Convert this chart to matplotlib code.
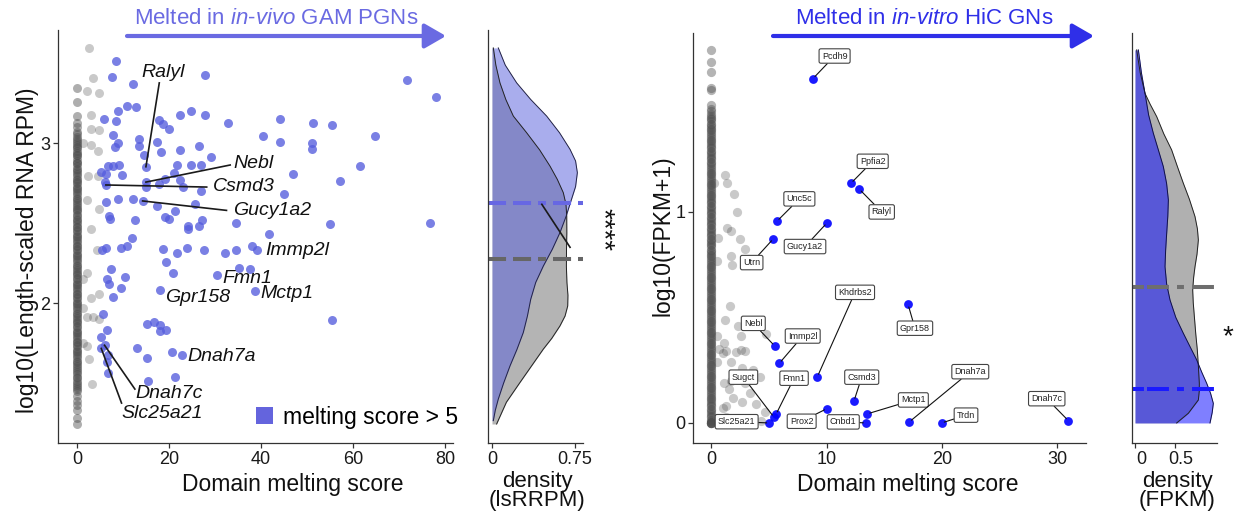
import matplotlib
matplotlib.use("Agg")
import matplotlib.pyplot as plt
from matplotlib.patches import Patch, FancyArrowPatch
from matplotlib.transforms import ScaledTranslation

plt.rcParams['font.family'] = ['Liberation Sans', 'DejaVu Sans']
plt.rcParams['mathtext.fontset'] = 'custom'
plt.rcParams['mathtext.rm'] = 'Liberation Sans'
plt.rcParams['mathtext.it'] = 'Liberation Sans:italic'
plt.rcParams['lines.scale_dashes'] = False

# ---------------- in-vivo GAM panel data ----------------
# genes melted (score > 5)
gam_melt_x = [8.41, 7.54, 12.10, 27.75, 71.67, 77.90, 10.80, 12.90, 8.99, 5.87, 8.48, 22.46, 24.86, 27.75,
              17.90, 18.70, 20.07, 32.75, 44.13, 51.23, 55.36, 64.86, 40.36, 44.13, 51.01, 51.16, 7.90, 8.91,
              8.26, 13.55, 13.41, 17.32, 18.26, 22.32, 26.45, 29.13, 14.57, 6.67, 7.90, 9.20, 5.3, 6.30,
              9.71, 21.67, 24.71, 26.88, 21.16, 19.06, 17.83, 22.39, 23.12, 15.0, 26.96, 45.0, 47.03, 61.45,
              57.17, 6.16, 6.23, 8.84, 12.25, 17.32, 25.58, 21.38, 19.13, 20.07, 27.17, 24.06, 24.13, 26.45,
              34.49, 54.93, 76.81, 41.67, 7.03, 7.17, 12.54, 12.03, 10.80, 9.57, 6.23, 5.51, 18.62, 21.67,
              23.84, 27.68, 32.25, 34.64, 37.97, 7.39, 6.45, 6.88, 10.51, 9.49, 7.75, 19.28, 20.94, 35.22,
              37.61, 55.43, 5.72, 6.45, 5.2, 6.81, 6.45, 6.67, 12.97, 15.14, 16.74, 18.04, 18.12, 19.28,
              15.22, 20.72, 15.51, 21.23]
gam_melt_y = [3.519, 3.415, 3.373, 3.431, 3.400, 3.288, 3.233, 3.229, 3.202, 3.150, 3.138, 3.175, 3.204, 3.181,
              3.146, 3.119, 3.088, 3.129, 3.154, 3.127, 3.115, 3.046, 3.046, 3.010, 3.004, 2.963, 3.050, 3.004,
              2.979, 3.025, 2.983, 3.008, 2.944, 2.958, 2.983, 2.913, 2.925, 2.858, 2.858, 2.865, 2.821, 2.808,
              2.802, 2.867, 2.863, 2.865, 2.813, 2.775, 2.748, 2.771, 2.729, 2.729, 2.702, 2.685, 2.810, 2.858,
              2.765, 2.760, 2.635, 2.650, 2.650, 2.610, 2.619, 2.575, 2.542, 2.525, 2.523, 2.481, 2.463, 2.485,
              2.502, 2.494, 2.504, 2.435, 2.546, 2.525, 2.519, 2.406, 2.358, 2.346, 2.348, 2.333, 2.338, 2.317,
              2.348, 2.333, 2.317, 2.333, 2.358, 2.217, 2.154, 2.123, 2.165, 2.098, 2.040, 2.258, 2.192, 2.223,
              2.213, 1.894, 1.935, 1.835, 1.790, 1.675, 1.633, 1.563, 1.721, 1.869, 1.883, 1.863, 1.827, 1.835,
              1.654, 1.696, 1.515, 1.540]

# named melted genes
gam_genes = ['Ralyl', 'Nebl', 'Csmd3', 'Gucy1a2', 'Immp2l', 'Fmn1', 'Gpr158', 'Mctp1', 'Dnah7a',
             'Dnah7c', 'Slc25a21']
gam_genes_x = [15.0, 15.0, 6.30, 14.28, 39.13, 30.43, 18.04, 38.77, 22.83, 6.01, 5.3]
gam_genes_y = [2.854, 2.758, 2.740, 2.640, 2.333, 2.179, 2.085, 2.075, 1.675, 1.737, 1.717]

# genes not melted (score <= 5)
gam_rest_x = [2.6, 3.4, 2.1, 4.7, 3.0, 3.1, 4.8, 1.3, 3.0, 4.5, 2.5, 4.6, 2.2, 4.7, 3.0, 4.4, 2.25, 1.4,
              4.7, 3.0, 1.4, 2.25, 3.4, 4.7, 1.4, 2.1, 2.7, 3.2]
gam_rest_y = [3.598, 3.408, 3.327, 3.313, 3.181, 3.088, 3.081, 3.004, 2.990, 2.952, 2.796, 2.796, 2.644,
              2.588, 2.467, 2.330, 2.192, 2.154, 2.056, 2.035, 1.973, 1.915, 1.915, 1.904, 1.748, 1.733,
              1.650, 1.494]
gam_zero_y = [3.35, 3.26, 3.17, 3.13, 3.10, 3.07, 3.06, 3.04, 3.03, 3.015, 3.00, 2.99, 2.975, 2.97, 2.955,
              2.94, 2.93, 2.925, 2.91, 2.89, 2.88, 2.875, 2.86, 2.84, 2.835, 2.82, 2.81, 2.795, 2.78, 2.77,
              2.76, 2.75, 2.735, 2.72, 2.715, 2.70, 2.69, 2.675, 2.66, 2.655, 2.64, 2.63, 2.615, 2.60, 2.59,
              2.585, 2.57, 2.555, 2.545, 2.53, 2.52, 2.51, 2.495, 2.48, 2.475, 2.46, 2.45, 2.435, 2.42, 2.415,
              2.40, 2.39, 2.375, 2.36, 2.355, 2.34, 2.33, 2.315, 2.30, 2.295, 2.28, 2.27, 2.255, 2.24, 2.235,
              2.22, 2.21, 2.195, 2.18, 2.175, 2.16, 2.15, 2.135, 2.12, 2.115, 2.10, 2.09, 2.075, 2.06, 2.055,
              2.04, 2.03, 2.015, 2.00, 1.995, 1.98, 1.97, 1.955, 1.94, 1.935, 1.92, 1.91, 1.895, 1.88, 1.875,
              1.86, 1.85, 1.835, 1.82, 1.815, 1.80, 1.79, 1.775, 1.76, 1.755, 1.74, 1.73, 1.715, 1.70, 1.695,
              1.68, 1.67, 1.655, 1.64, 1.635, 1.62, 1.61, 1.595, 1.58, 1.57, 1.555, 1.54, 1.53, 1.515, 1.50,
              1.49, 1.475, 1.46, 1.45, 1.42, 1.39, 1.36, 1.33, 1.28, 1.245]

# density of lsRRPM per group
gam_dens_melt_y = [3.598, 3.49, 3.379, 3.275, 3.171, 3.067, 2.963, 2.89, 2.817, 2.73, 2.65, 2.545, 2.442,
                   2.338, 2.233, 2.13, 2.025, 1.92, 1.817, 1.71, 1.608, 1.50, 1.40, 1.33, 1.265]
gam_dens_melt = [0.057, 0.12, 0.223, 0.35, 0.494, 0.61, 0.705, 0.755, 0.771, 0.755, 0.718, 0.67, 0.614,
                 0.545, 0.464, 0.395, 0.35, 0.32, 0.283, 0.225, 0.163, 0.105, 0.057, 0.03, 0.012]
gam_dens_rest_y = [3.598, 3.49, 3.379, 3.275, 3.171, 3.067, 2.96, 2.858, 2.775, 2.692, 2.62, 2.546, 2.44,
                   2.338, 2.23, 2.129, 2.05, 1.983, 1.92, 1.858, 1.78, 1.713, 1.61, 1.504, 1.38, 1.244]
gam_dens_rest = [0.012, 0.035, 0.072, 0.125, 0.193, 0.313, 0.43, 0.524, 0.59, 0.644, 0.668, 0.675, 0.676,
                 0.673, 0.672, 0.677, 0.686, 0.684, 0.66, 0.614, 0.54, 0.464, 0.36, 0.253, 0.13, 0.042]
gam_median_melt = 2.63
gam_median_rest = 2.275

# ---------------- in-vitro HiC panel data ----------------
hic_genes = ['Pcdh9', 'Ppfia2', 'Ralyl', 'Unc5c', 'Gucy1a2', 'Utrn', 'Khdrbs2', 'Gpr158', 'Nebl', 'Immp2l',
             'Sugct', 'Fmn1', 'Slc25a21', 'Prox2', 'Csmd3', 'Cnbd1', 'Mctp1', 'Dnah7a', 'Trdn', 'Dnah7c']
hic_genes_x = [8.83, 12.12, 12.84, 5.71, 10.04, 5.40, 9.21, 17.06, 5.51, 5.92, 5.45, 5.63, 5.05, 10.04,
               12.38, 13.42, 13.53, 17.17, 19.97, 30.94]
hic_genes_y = [1.632, 1.136, 1.108, 0.956, 0.948, 0.873, 0.219, 0.562, 0.365, 0.283, 0.027, 0.041, 0.0,
               0.068, 0.104, 0.0, 0.043, 0.005, 0.0, 0.011]

hic_rest_x = [1.24, 1.41, 0.3, 2.02, 2.25, 1.39, 1.73, 0.61, 2.54, 2.94, 1.7, 0.49, 1.79, 1.64, 1.24, 2.36,
              2.6, 4.8, 3.6, 1.0, 2.2, 2.9, 0.56, 3.6, 4.2, 1.6, 3.4, 2.7, 1.3, 1.0, 3.9, 4.7, 4.3, 1.3,
              0.5, 1.1, 0.7, 1.7, 2.7, 1.1, 1.7, 2.9, 1.9, 2.6, 1.3]
hic_rest_y = [1.175, 1.136, 1.136, 1.084, 0.998, 0.926, 0.910, 0.878, 0.870, 0.825, 0.790, 0.768, 0.749,
              0.555, 0.490, 0.460, 0.410, 0.420, 0.470, 0.330, 0.335, 0.340, 0.290, 0.250, 0.220, 0.160,
              0.140, 0.100, 0.080, 0.070, 0.090, 0.050, 0.010, 0.030, 0.410, 0.380, 0.350, 0.290, 0.260,
              0.190, 0.200, 0.190, 0.120, 0.345, 0.340]
hic_zero_y = [1.768, 1.712, 1.665, 1.585, 1.578, 1.507, 1.49, 1.478, 1.466, 1.455, 1.446, 1.44, 1.43, 1.419,
              1.413, 1.404, 1.394, 1.387, 1.378, 1.368, 1.361, 1.352, 1.342, 1.336, 1.326, 1.316, 1.31, 1.301,
              1.29, 1.283, 1.275, 1.264, 1.257, 1.249, 1.238, 1.231, 1.222, 1.212, 1.205, 1.196, 1.186, 1.18,
              1.17, 1.16, 1.153, 1.144, 1.134, 1.128, 1.118, 1.108, 1.101, 1.092, 1.082, 1.075, 1.066, 1.056,
              1.049, 1.04, 1.03, 1.023, 1.014, 1.004, 0.997, 0.988, 0.978, 0.971, 0.962, 0.952, 0.945, 0.936,
              0.926, 0.919, 0.91, 0.9, 0.893, 0.884, 0.874, 0.867, 0.858, 0.848, 0.841, 0.832, 0.822, 0.815,
              0.806, 0.796, 0.789, 0.78, 0.77, 0.763, 0.754, 0.744, 0.737, 0.728, 0.718, 0.711, 0.702, 0.692,
              0.685, 0.676, 0.666, 0.659, 0.65, 0.64, 0.633, 0.624, 0.614, 0.607, 0.598, 0.588, 0.581, 0.572,
              0.562, 0.555, 0.546, 0.536, 0.529, 0.52, 0.51, 0.503, 0.494, 0.484, 0.477, 0.468, 0.458, 0.451,
              0.442, 0.432, 0.425, 0.416, 0.406, 0.399, 0.39, 0.38, 0.373, 0.364, 0.354, 0.347, 0.338, 0.328,
              0.321, 0.312, 0.302, 0.295, 0.286, 0.276, 0.269, 0.26, 0.25, 0.243, 0.234, 0.224, 0.217, 0.208,
              0.198, 0.191, 0.182, 0.172, 0.165, 0.156, 0.146, 0.139, 0.13, 0.12, 0.113, 0.104, 0.094, 0.087,
              0.078, 0.068, 0.061, 0.052, 0.042, 0.035, 0.026, 0.016, 0.009, 0.004, 0.0, 0.0, 0.0, 0.0, 0.0]

hic_dens_melt_y = [0.0, 0.05, 0.093, 0.14, 0.188, 0.24, 0.299, 0.36, 0.425, 0.50, 0.583, 0.66, 0.741, 0.82,
                   0.899, 0.98, 1.057, 1.135, 1.215, 1.29, 1.373, 1.46, 1.562, 1.66, 1.768]
hic_dens_melt = [0.9375, 0.965, 0.979, 0.945, 0.896, 0.835, 0.771, 0.69, 0.604, 0.51, 0.4375, 0.395, 0.375,
                 0.383, 0.396, 0.41, 0.417, 0.395, 0.354, 0.295, 0.229, 0.17, 0.125, 0.08, 0.042]
hic_dens_rest_y = [0.0, 0.046, 0.109, 0.15, 0.188, 0.27, 0.346, 0.42, 0.504, 0.57, 0.63, 0.69, 0.741, 0.80,
                   0.867, 0.92, 0.978, 1.06, 1.136, 1.215, 1.294, 1.37, 1.452, 1.51, 1.562, 1.66, 1.768]
hic_dens_rest = [0.521, 0.667, 0.792, 0.803, 0.804, 0.792, 0.779, 0.76, 0.742, 0.728, 0.721, 0.733, 0.75,
                 0.775, 0.792, 0.78, 0.75, 0.68, 0.604, 0.53, 0.458, 0.36, 0.271, 0.19, 0.125, 0.065, 0.021]
hic_median_rest = 0.645
hic_median_melt = 0.161

# ---------------- colours ----------------
GAM_BLUE = '#555ddd'
GAM_TITLE = '#6a6ae2'
HIC_BLUE = '#0101ff'
GREY_PT = '#4d4d4d'
GREY_FILL = '#6b6b6b'
HIC_GREY_FILL = '#636363'
AXC = '#333333'

W, H = 1239, 519
fig = plt.figure(figsize=(W / 100, H / 100), dpi=100)


def px_axes(x0, y0, x1, y1):
    return fig.add_axes([x0 / W, 1 - y1 / H, (x1 - x0) / W, (y1 - y0) / H])


def fpos(x, y):
    return x / W, 1 - y / H


def style(ax):
    for s in ('top', 'right'):
        ax.spines[s].set_visible(False)
    for s in ('left', 'bottom'):
        ax.spines[s].set_linewidth(0.9)
        ax.spines[s].set_color(AXC)
    ax.tick_params(length=3.5, width=0.9, color=AXC, labelsize=13, labelcolor='#1a1a1a', pad=2)
    ax.patch.set_alpha(0)


# ======== left scatter ========
ax1 = px_axes(58, 30, 453, 443)
style(ax1)
ax1.set_xlim(-4.1, 81.7)
ax1.set_ylim(1.125, 3.71)
ax1.set_xticks([0, 20, 40, 60, 80])
ax1.set_yticks([2, 3])
ax1.scatter([0] * len(gam_zero_y), gam_zero_y, s=42, c=GREY_PT, alpha=0.45, linewidths=0)
ax1.scatter(gam_rest_x, gam_rest_y, s=42, c=GREY_PT, alpha=0.3, linewidths=0)
ax1.scatter(gam_melt_x + gam_genes_x, gam_melt_y + gam_genes_y, s=42, c=GAM_BLUE, alpha=0.78,
            linewidths=0)

gam_label_pos = {
    'Ralyl': ((18.8, 3.442), (17.9, 3.379)),
    'Nebl': ((38.3, 2.875), (33.3, 2.865)),
    'Csmd3': ((36.2, 2.729), (28.2, 2.727)),
    'Gucy1a2': ((42.3, 2.583), (32.5, 2.581)),
    'Immp2l': ((47.9, 2.333), None),
    'Fmn1': ((37.0, 2.154), None),
    'Gpr158': ((26.3, 2.035), None),
    'Mctp1': ((45.7, 2.060), None),
    'Dnah7a': ((31.5, 1.667), None),
    'Dnah7c': ((20.1, 1.4375), (12.6, 1.4625)),
    'Slc25a21': ((18.6, 1.3125), (9.7, 1.375)),
}
for g, gx, gy in zip(gam_genes, gam_genes_x, gam_genes_y):
    (tx, ty), lend = gam_label_pos[g]
    if lend is not None:
        ax1.plot([gx, lend[0]], [gy, lend[1]], color='#1a1a1a', lw=1.2, zorder=3)
    ax1.text(tx, ty, g, fontsize=14, style='italic', ha='center', va='center', color='#111111')

ax1.legend(handles=[Patch(facecolor='#6464dd', edgecolor='none')], labels=['melting score > 5'],
           loc='lower left', bbox_to_anchor=(0.50, 0.035), frameon=False, fontsize=16.5,
           handlelength=0.77, handleheight=0.77, handletextpad=0.45, borderpad=0, borderaxespad=0)

# ======== left density ========
ax2 = px_axes(488, 30, 583, 443)
style(ax2)
ax2.set_xlim(-0.036, 0.822)
ax2.set_ylim(1.125, 3.71)
ax2.set_yticks([])
ax2.set_xticks([0, 0.75])
ax2.set_xticklabels(['0', '0.75'])
ax2.fill_betweenx(gam_dens_rest_y, 0, gam_dens_rest, color=GREY_FILL, alpha=0.5, lw=0)
ax2.fill_betweenx(gam_dens_melt_y, 0, gam_dens_melt, color=GAM_BLUE, alpha=0.5, lw=0)
ax2.plot(gam_dens_rest, gam_dens_rest_y, color='#222222', lw=0.7)
ax2.plot(gam_dens_melt, gam_dens_melt_y, color='#222244', lw=0.7)
ax2.axhline(gam_median_melt, color='#6767e3', lw=2.9, linestyle=(0, (13, 5, 13, 5, 5.8, 5)))
ax2.axhline(gam_median_rest, color='#666666', lw=2.9, linestyle=(0, (13, 5, 13, 5, 5.8, 5)))
ax2.plot([0.45, 0.705], [gam_median_melt - 0.011, gam_median_rest + 0.075], color='#1a1a1a', lw=1.2)
fig.text(*fpos(602, 230), '****', rotation=270, fontsize=20, ha='center', va='center', color='#111111')

# ======== right scatter ========
ax3 = px_axes(693, 33, 1086, 443)
style(ax3)
ax3.set_xlim(-1.56, 32.47)
ax3.set_ylim(-0.095, 1.848)
ax3.set_xticks([0, 10, 20, 30])
ax3.set_yticks([0, 1])
ax3.scatter([0] * len(hic_zero_y), hic_zero_y, s=44, c=GREY_PT, alpha=0.42, linewidths=0)
ax3.scatter(hic_rest_x, hic_rest_y, s=44, c=GREY_PT, alpha=0.3, linewidths=0)
ax3.scatter(hic_genes_x, hic_genes_y, s=40, c=HIC_BLUE, alpha=0.9, linewidths=0, zorder=3)

hic_label_pos = {
    'Pcdh9': (10.7, 1.739), 'Ppfia2': (14.0, 1.24), 'Ralyl': (14.78, 1.0), 'Unc5c': (7.65, 1.062),
    'Gucy1a2': (8.14, 0.836), 'Utrn': (3.52, 0.760), 'Khdrbs2': (12.47, 0.619), 'Gpr158': (17.66, 0.449),
    'Nebl': (3.66, 0.472), 'Immp2l': (7.94, 0.412), 'Sugct': (2.80, 0.217), 'Fmn1': (7.19, 0.212),
    'Slc25a21': (2.22, 0.006), 'Prox2': (7.85, 0.008), 'Csmd3': (13.05, 0.217), 'Cnbd1': (11.45, 0.005),
    'Mctp1': (17.52, 0.109), 'Dnah7a': (22.45, 0.243), 'Trdn': (22.08, 0.037), 'Dnah7c': (29.07, 0.115),
}
for g, gx, gy in zip(hic_genes, hic_genes_x, hic_genes_y):
    ax3.annotate(g, xy=(gx, gy), xytext=hic_label_pos[g], fontsize=6.5, ha='center', va='center',
                 color='#222222', zorder=4,
                 bbox=dict(boxstyle='round,pad=0.3,rounding_size=0.2', fc='white', ec='#444444', lw=0.8),
                 arrowprops=dict(arrowstyle='-', color='#111111', lw=0.8, shrinkA=0, shrinkB=2))

# ======== right density ========
ax4 = px_axes(1132, 33, 1217, 443)
style(ax4)
ax4.set_xlim(-0.0375, 1.025)
ax4.set_ylim(-0.095, 1.848)
ax4.set_yticks([])
ax4.set_xticks([0, 0.5])
ax4.set_xticklabels(['0', '0.5'])
for lab in ax4.get_xticklabels():
    lab.set_transform(lab.get_transform() + ScaledTranslation(0.06, 0, fig.dpi_scale_trans))
ax4.fill_betweenx(hic_dens_rest_y, 0, hic_dens_rest, color=HIC_GREY_FILL, alpha=0.5, lw=0)
ax4.fill_betweenx(hic_dens_melt_y, 0, hic_dens_melt, color=HIC_BLUE, alpha=0.5, lw=0)
ax4.plot(hic_dens_rest, hic_dens_rest_y, color='#222222', lw=0.7)
ax4.plot(hic_dens_melt, hic_dens_melt_y, color='#111144', lw=0.7)
ax4.axhline(hic_median_rest, color='#6e6e6e', lw=2.9,
            linestyle=(0, (8.6, 2.2, 15.8, 5.8, 5, 5.8, 15.8, 5.8)))
ax4.axhline(hic_median_melt, color='#1a1aff', lw=2.9,
            linestyle=(0, (8.6, 2.2, 15.8, 5.8, 5, 5.8, 15.8, 5.8)))
fig.text(*fpos(1228, 337), '*', fontsize=20, ha='center', va='center', color='#111111')

# ======== axis titles ========
fig.text(*fpos(28, 250), 'log10(Length-scaled RNA RPM)', rotation=90, fontsize=16.5, ha='center',
         va='center', color='#111111')
fig.text(*fpos(293, 485), 'Domain melting score', fontsize=16.5, ha='center', va='center', color='#111111')
fig.text(*fpos(537, 491), 'density\n(lsRRPM)', fontsize=16, ha='center', va='center', linespacing=0.85,
         color='#111111')
fig.text(*fpos(663, 236), 'log10(FPKM+1)', rotation=90, fontsize=16.5, ha='center', va='center',
         color='#111111')
fig.text(*fpos(908, 485), 'Domain melting score', fontsize=16.5, ha='center', va='center', color='#111111')
fig.text(*fpos(1177, 491), 'density\n(FPKM)', fontsize=16, ha='center', va='center', linespacing=0.85,
         color='#111111')

# ======== headers with arrows ========
fig.text(*fpos(276, 18), r'Melted in $\mathit{in}$-$\mathit{vivo}$ GAM PGNs', fontsize=16, ha='center',
         va='center', color=GAM_TITLE)
fig.text(*fpos(924, 18), r'Melted in $\mathit{in}$-$\mathit{vitro}$ HiC GNs', fontsize=16, ha='center',
         va='center', color='#2f2fe8')
for (xa, xb, col) in [(127, 446, GAM_TITLE), (773, 1094, '#2f2fe8')]:
    arr = FancyArrowPatch(fpos(xa, 36), fpos(xb, 36), transform=fig.transFigure,
                          arrowstyle='-|>,head_length=1.3,head_width=0.75', mutation_scale=10,
                          lw=3, color=col, shrinkA=0, shrinkB=0)
    fig.add_artist(arr)

fig.savefig('out.png', dpi=100)
